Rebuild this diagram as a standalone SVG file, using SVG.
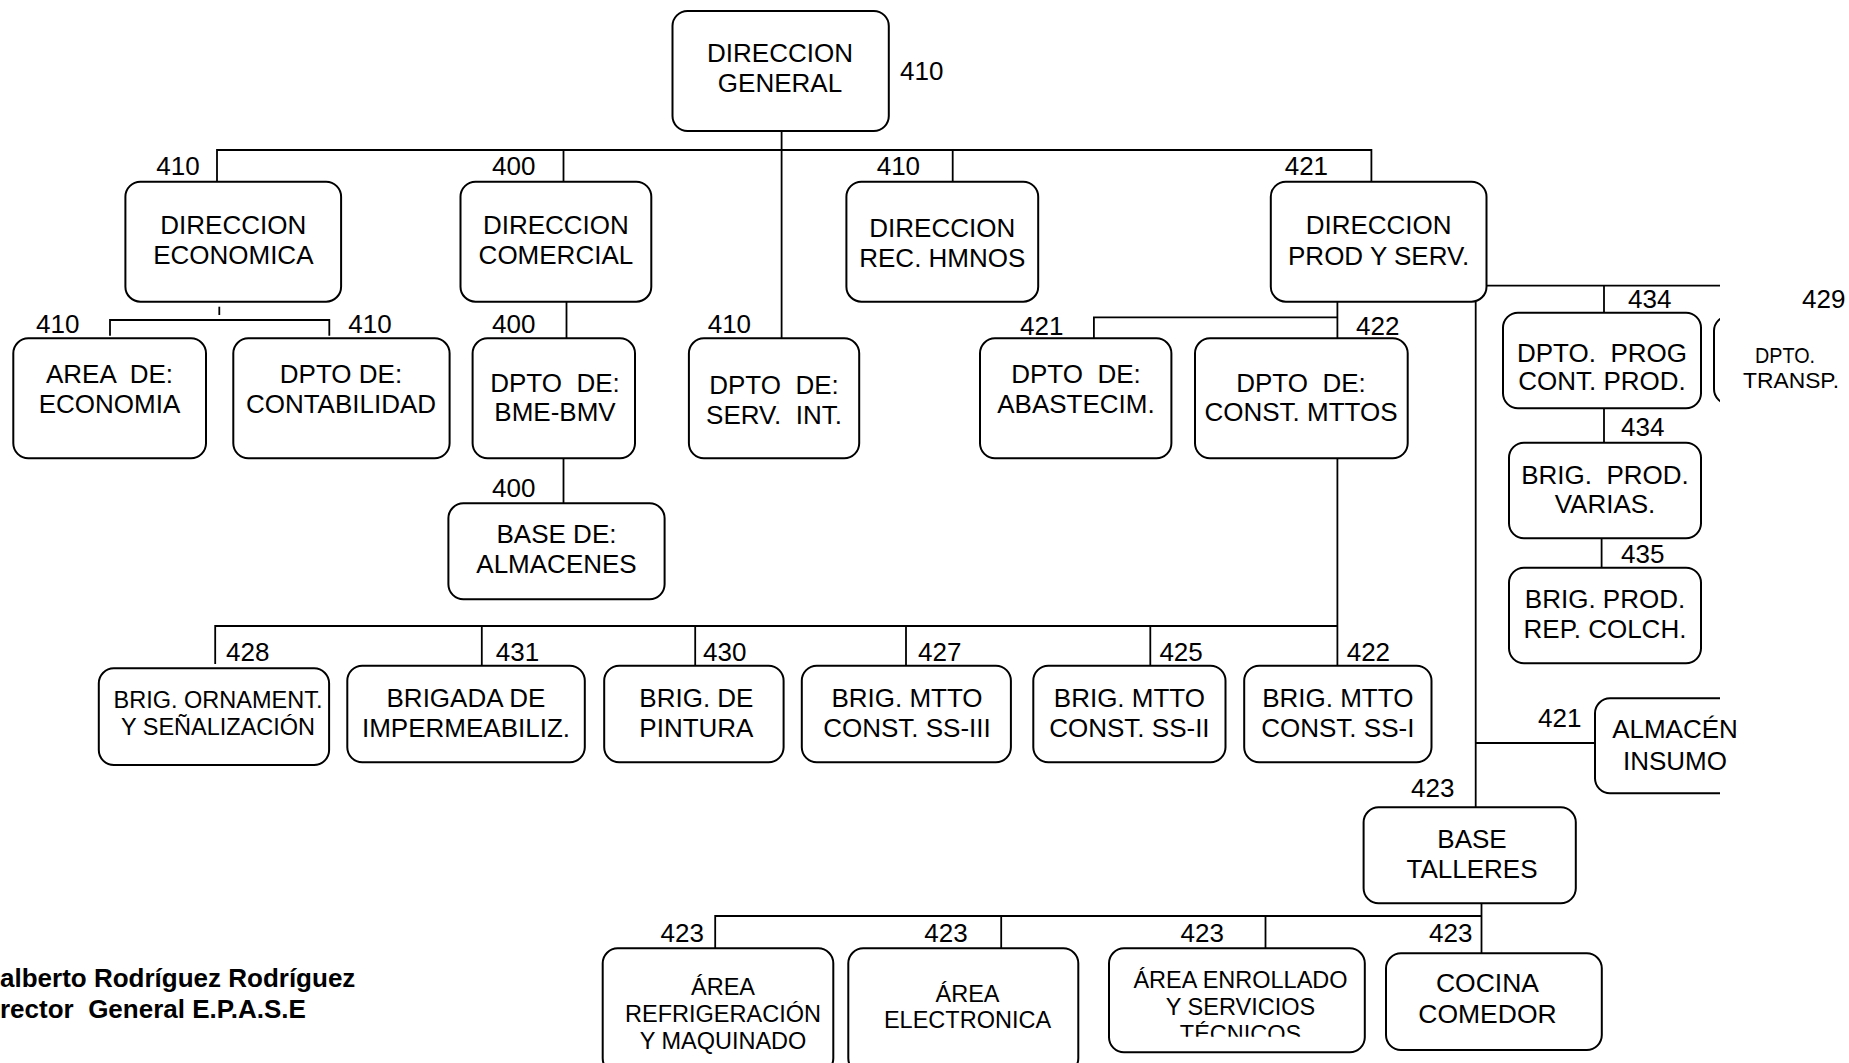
<svg xmlns="http://www.w3.org/2000/svg" width="1849" height="1063" viewBox="0 0 1849 1063">
<style>
text{font-family:"Liberation Sans",Arial,sans-serif;fill:#000;white-space:pre}
.t{font-size:26px;text-anchor:middle}
.s{font-size:23.5px;text-anchor:middle}
.n{font-size:26px}
.b{font-size:26px;font-weight:bold}
.box{fill:#fff;stroke:#000;stroke-width:2}
.c line,.c path{stroke:#000;stroke-width:1.8;fill:none}
</style>
<defs>
<clipPath id="clipR"><rect x="0" y="0" width="1720" height="1063"/></clipPath>
<clipPath id="clipTec"><rect x="1100" y="940" width="270" height="96.7"/></clipPath>
</defs>
<rect width="1849" height="1063" fill="#fff"/>

<g class="c" id="connectors">
<line x1="781.6" y1="131" x2="781.6" y2="338.3"/>
<path d="M217,181.7 V150 H1371.4 V181.7"/>
<line x1="563.5" y1="150" x2="563.5" y2="181.7"/>
<line x1="952.7" y1="150" x2="952.7" y2="181.7"/>
<line x1="219.3" y1="306.7" x2="219.3" y2="315"/>
<path d="M110,335.7 V320 H329.3 V335.7"/>
<line x1="566.5" y1="301.7" x2="566.5" y2="338.3"/>
<line x1="563.5" y1="458.3" x2="563.5" y2="503.3"/>
<line x1="1337.4" y1="301.7" x2="1337.4" y2="338.3"/>
<path d="M1093.9,341 V317.3 H1337.4"/>
<line x1="1337.4" y1="458.3" x2="1337.4" y2="665.7"/>
<path d="M215.2,664 V626 H1337.4"/>
<line x1="481.8" y1="626" x2="481.8" y2="665.7"/>
<line x1="695.2" y1="626" x2="695.2" y2="665.7"/>
<line x1="906" y1="626" x2="906" y2="665.7"/>
<line x1="1150.3" y1="626" x2="1150.3" y2="665.7"/>
<line x1="1475.7" y1="301.7" x2="1475.7" y2="807.3"/>
<line x1="1484" y1="285.7" x2="1720" y2="285.7"/>
<line x1="1604" y1="285.7" x2="1604" y2="312.7"/>
<line x1="1604" y1="408.3" x2="1604" y2="442.7"/>
<line x1="1601.6" y1="538.3" x2="1601.6" y2="567.7"/>
<line x1="1475.7" y1="743" x2="1595" y2="743"/>
<line x1="1481.5" y1="903.3" x2="1481.5" y2="953.3"/>
<path d="M715.2,948.3 V916 H1481.5"/>
<line x1="1001.2" y1="916" x2="1001.2" y2="948.3"/>
<line x1="1265.5" y1="916" x2="1265.5" y2="948.3"/>
</g>

<g id="n-direccion-general">
<rect class="box" x="672.5" y="11" width="216.3" height="120" rx="15"/>
<text class="t" x="780" y="61.7">DIRECCION</text>
<text class="t" x="780" y="91.7">GENERAL</text>
<text class="n" x="900" y="80">410</text>
</g>

<g id="n-dir-economica">
<rect class="box" x="125.4" y="181.7" width="215.7" height="120" rx="15"/>
<text class="t" x="233.3" y="234.3">DIRECCION</text>
<text class="t" x="233.3" y="264.3">ECONOMICA</text>
<text class="n" x="156.3" y="175">410</text>
</g>

<g id="n-dir-comercial">
<rect class="box" x="460.5" y="181.7" width="190.8" height="120" rx="15"/>
<text class="t" x="555.9" y="234.3">DIRECCION</text>
<text class="t" x="555.9" y="264.3">COMERCIAL</text>
<text class="n" x="492" y="175">400</text>
</g>

<g id="n-dir-rec-hmnos">
<rect class="box" x="846.4" y="181.7" width="191.8" height="120" rx="15"/>
<text class="t" x="942.3" y="236.7">DIRECCION</text>
<text class="t" x="942.3" y="266.7">REC. HMNOS</text>
<text class="n" x="876.7" y="175">410</text>
</g>

<g id="n-dir-prod-serv">
<rect class="box" x="1270.8" y="181.7" width="215.7" height="120" rx="15"/>
<text class="t" x="1378.6" y="234.3">DIRECCION</text>
<text class="t" x="1378.6" y="265">PROD Y SERV.</text>
<text class="n" x="1284.7" y="175">421</text>
</g>

<g id="n-area-economia">
<rect class="box" x="13.3" y="338.3" width="192.7" height="120" rx="15"/>
<text class="t" x="109.5" y="383.3">AREA  DE:</text>
<text class="t" x="109.5" y="413.3">ECONOMIA</text>
<text class="n" x="36" y="332.5">410</text>
</g>

<g id="n-contabilidad">
<rect class="box" x="233.3" y="338.3" width="216.3" height="120" rx="15"/>
<text class="t" x="341" y="383.3">DPTO DE:</text>
<text class="t" x="341" y="413.3">CONTABILIDAD</text>
<text class="n" x="348.3" y="332.5">410</text>
</g>

<g id="n-bme-bmv">
<rect class="box" x="472.6" y="338.3" width="162.4" height="120" rx="15"/>
<text class="t" x="555" y="391.7">DPTO  DE:</text>
<text class="t" x="555" y="420.7">BME-BMV</text>
<text class="n" x="492" y="332.7">400</text>
</g>

<g id="n-base-almacenes">
<rect class="box" x="448.4" y="503.3" width="216.2" height="96" rx="15"/>
<text class="t" x="556.5" y="543.3">BASE DE:</text>
<text class="t" x="556.5" y="573.3">ALMACENES</text>
<text class="n" x="492" y="497.3">400</text>
</g>

<g id="n-serv-int">
<rect class="box" x="688.9" y="338.3" width="170.3" height="120" rx="15"/>
<text class="t" x="774" y="394">DPTO  DE:</text>
<text class="t" x="774" y="424.3">SERV.  INT.</text>
<text class="n" x="707.7" y="332.7">410</text>
</g>

<g id="n-abastecim">
<rect class="box" x="980" y="338.3" width="191.4" height="120" rx="15"/>
<text class="t" x="1076" y="383.3">DPTO  DE:</text>
<text class="t" x="1076" y="413.3">ABASTECIM.</text>
<text class="n" x="1020" y="335">421</text>
</g>

<g id="n-const-mttos">
<rect class="box" x="1195" y="338.3" width="212.7" height="120" rx="15"/>
<text class="t" x="1301" y="391.7">DPTO  DE:</text>
<text class="t" x="1301" y="420.7">CONST. MTTOS</text>
<text class="n" x="1356" y="335">422</text>
</g>

<g id="n-dpto-prog">
<rect class="box" x="1503" y="312.7" width="198" height="95.6" rx="15"/>
<text class="t" x="1602" y="361.7">DPTO.  PROG</text>
<text class="t" x="1602" y="390">CONT. PROD.</text>
<text class="n" x="1628" y="308">434</text>
</g>

<g id="n-dpto-transp">
<rect class="box" x="1714" y="316" width="200" height="88" rx="15" clip-path="url(#clipR)"/>
<text class="n" style="font-size:21.5px" x="1755" y="363" textLength="60" lengthAdjust="spacingAndGlyphs">DPTO.</text>
<text class="n" style="font-size:21.5px" x="1743" y="388" textLength="96" lengthAdjust="spacingAndGlyphs">TRANSP.</text>
<text class="n" x="1802" y="308">429</text>
</g>

<g id="n-brig-prod-varias">
<rect class="box" x="1509" y="442.7" width="192" height="95.6" rx="15"/>
<text class="t" x="1605" y="484.3">BRIG.  PROD.</text>
<text class="t" x="1605" y="513.3">VARIAS.</text>
<text class="n" x="1621" y="436">434</text>
</g>

<g id="n-brig-prod-colch">
<rect class="box" x="1509" y="567.7" width="192" height="95.6" rx="15"/>
<text class="t" x="1605" y="608.3">BRIG. PROD.</text>
<text class="t" x="1605" y="638.3">REP. COLCH.</text>
<text class="n" x="1621" y="563.3">435</text>
</g>

<g id="n-almacen-insumo">
<rect class="box" x="1595" y="698.3" width="200" height="95" rx="15" clip-path="url(#clipR)"/>
<text class="t" x="1675" y="738.3">ALMACÉN</text>
<text class="t" x="1675" y="770">INSUMO</text>
<text class="n" x="1538" y="726.5">421</text>
</g>

<g id="n-base-talleres">
<rect class="box" x="1363.6" y="807.3" width="212.2" height="96" rx="15"/>
<text class="t" x="1472" y="848.3">BASE</text>
<text class="t" x="1472" y="877.7">TALLERES</text>
<text class="n" x="1411" y="797.3">423</text>
</g>

<g id="n-brig-ornament">
<rect class="box" x="98.8" y="668.3" width="230.3" height="96.7" rx="15"/>
<text class="s" x="218" y="708.3">BRIG. ORNAMENT.</text>
<text class="s" x="218" y="735">Y SEÑALIZACIÓN</text>
<text class="n" x="226" y="660.5">428</text>
</g>

<g id="n-brig-impermeabiliz">
<rect class="box" x="347.3" y="665.7" width="237.5" height="96.6" rx="15"/>
<text class="t" x="466" y="707.3">BRIGADA DE</text>
<text class="t" x="466" y="736.7">IMPERMEABILIZ.</text>
<text class="n" x="495.8" y="660.5">431</text>
</g>

<g id="n-brig-pintura">
<rect class="box" x="604.2" y="665.7" width="179.4" height="96.6" rx="15"/>
<text class="t" x="696.4" y="707.3">BRIG. DE</text>
<text class="t" x="696.4" y="736.7">PINTURA</text>
<text class="n" x="703" y="660.5">430</text>
</g>

<g id="n-brig-ss3">
<rect class="box" x="801.8" y="665.7" width="209.1" height="96.6" rx="15"/>
<text class="t" x="907" y="707.3">BRIG. MTTO</text>
<text class="t" x="907" y="736.7">CONST. SS-III</text>
<text class="n" x="918" y="660.5">427</text>
</g>

<g id="n-brig-ss2">
<rect class="box" x="1033.3" y="665.7" width="192.2" height="96.6" rx="15"/>
<text class="t" x="1129.4" y="707.3">BRIG. MTTO</text>
<text class="t" x="1129.4" y="736.7">CONST. SS-II</text>
<text class="n" x="1159.4" y="660.5">425</text>
</g>

<g id="n-brig-ss1">
<rect class="box" x="1244.2" y="665.7" width="187.3" height="96.6" rx="15"/>
<text class="t" x="1337.8" y="707.3">BRIG. MTTO</text>
<text class="t" x="1337.8" y="736.7">CONST. SS-I</text>
<text class="n" x="1346.7" y="660.5">422</text>
</g>

<g id="n-area-refrig">
<rect class="box" x="602.7" y="948.3" width="230.6" height="125" rx="15"/>
<text class="s" x="723" y="995">ÁREA</text>
<text class="s" x="723" y="1022.3">REFRIGERACIÓN</text>
<text class="s" x="723" y="1049">Y MAQUINADO</text>
<text class="n" x="660.6" y="941.7">423</text>
</g>

<g id="n-area-electronica">
<rect class="box" x="848.3" y="948.3" width="230" height="125" rx="15"/>
<text class="s" x="967.5" y="1001.7">ÁREA</text>
<text class="s" x="967.5" y="1028.3">ELECTRONICA</text>
<text class="n" x="924.3" y="941.7">423</text>
</g>

<g id="n-area-enrollado">
<rect class="box" x="1109" y="948.3" width="255.8" height="104" rx="15"/>
<g clip-path="url(#clipTec)">
<text class="s" x="1240.5" y="988.3">ÁREA ENROLLADO</text>
<text class="s" x="1240.5" y="1015">Y SERVICIOS</text>
<text class="s" x="1240.5" y="1041.7">TÉCNICOS</text>
</g>
<text class="n" x="1180.6" y="941.7">423</text>
</g>

<g id="n-cocina-comedor">
<rect class="box" x="1386" y="953.3" width="215.8" height="96.7" rx="15"/>
<text class="t" style="font-size:26.5px" x="1487.5" y="991.7">COCINA</text>
<text class="t" style="font-size:26.5px" x="1487.5" y="1023.3">COMEDOR</text>
<text class="n" x="1429" y="941.7">423</text>
</g>

<g id="signature">
<text class="b" x="0" y="986.5">alberto Rodríguez Rodríguez</text>
<text class="b" x="0" y="1018">rector  General E.P.A.S.E</text>
</g>
</svg>
